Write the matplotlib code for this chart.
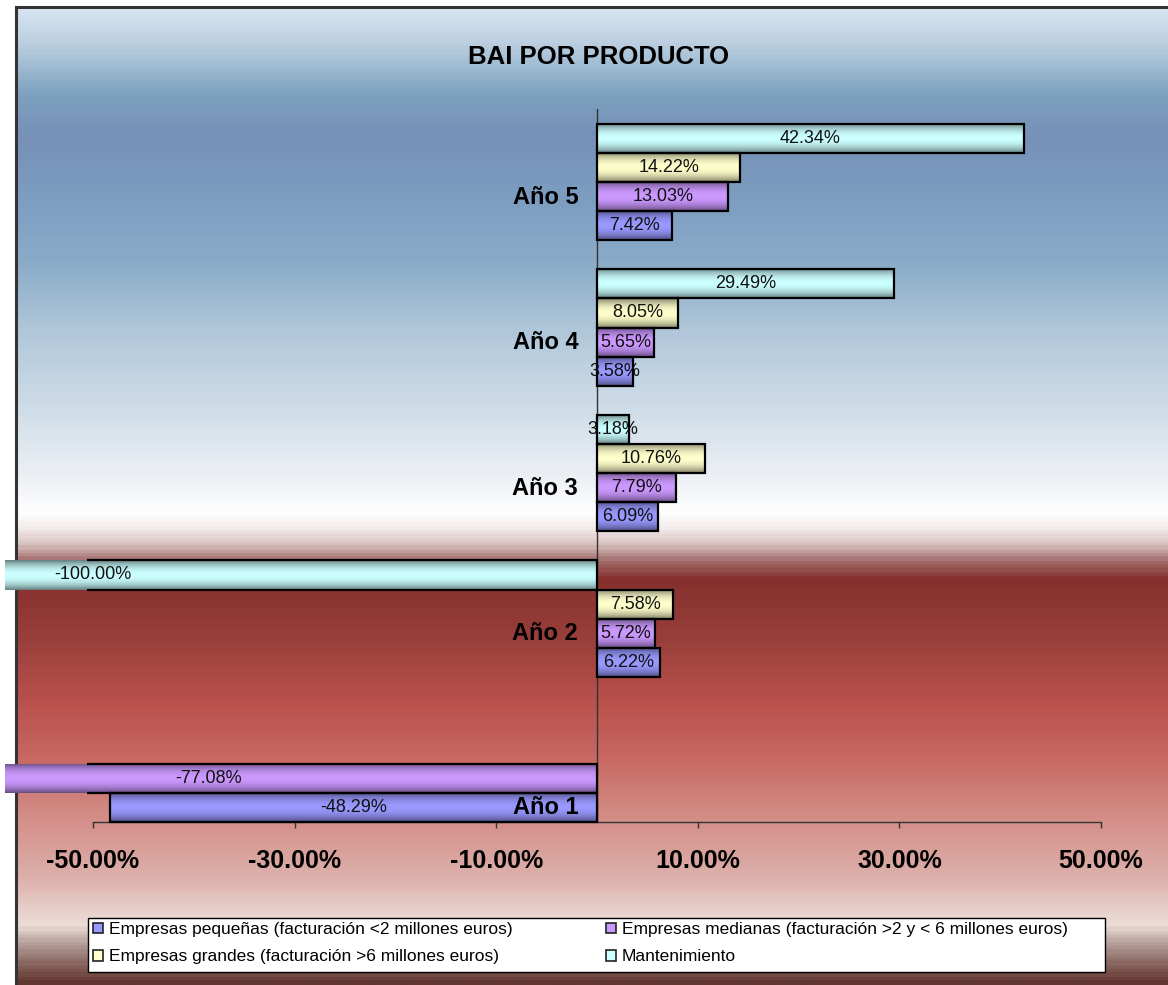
import numpy as np
import matplotlib.pyplot as plt
from matplotlib.colors import LinearSegmentedColormap, to_rgb
from matplotlib.patches import Rectangle, Patch
from matplotlib.ticker import FixedLocator, FuncFormatter

# data
categories = ['Año 1', 'Año 2', 'Año 3', 'Año 4', 'Año 5']
series = ['Empresas pequeñas (facturación <2 millones euros)',
          'Empresas medianas (facturación >2 y < 6 millones euros)',
          'Empresas grandes (facturación >6 millones euros)',
          'Mantenimiento']
pequenas = [-48.29, 6.22, 6.09, 3.58, 7.42]
medianas = [-77.08, 5.72, 7.79, 5.65, 13.03]
grandes = [None, 7.58, 10.76, 8.05, 14.22]
mantenimiento = [None, -100.00, 3.18, 29.49, 42.34]
values = [pequenas, medianas, grandes, mantenimiento]
colors = ['#9999ff', '#cc99ff', '#ffffcc', '#ccffff']
xticks = [-50, -30, -10, 10, 30, 50]

W, H = 1168, 985
fig = plt.figure(figsize=(W / 100, H / 100), dpi=100)
fig.patch.set_facecolor('white')

# background gradient of the chart area
stops = [(7, '#d6e4f1'), (40, '#bccfe0'), (70, '#98b6cd'), (90, '#7ea2bf'),
         (135, '#7790b8'), (200, '#7d9ec1'), (260, '#8aabc8'), (330, '#b0c7d9'),
         (420, '#d4e0ea'), (480, '#eef1f6'), (512, '#ffffff'), (528, '#f4ecec'),
         (545, '#d8c0c0'), (562, '#a06a68'), (580, '#86302d'), (640, '#993f3b'),
         (700, '#b8504c'), (760, '#c86862'), (820, '#d48e88'), (880, '#ddb0ab'),
         (915, '#e8d2cd'), (928, '#ecdcd6'), (945, '#b8a29d'), (965, '#8c6a64'),
         (985, '#623630')]
bg_cmap = LinearSegmentedColormap.from_list(
    'bg', [((y - 7) / (985 - 7), c) for y, c in stops])
bg = fig.add_axes([16 / W, 0, 1 - 16 / W, (H - 7) / H], zorder=-10)
bg.imshow(np.linspace(0, 1, 600).reshape(-1, 1), cmap=bg_cmap, aspect='auto',
          extent=[0, 1, 0, 1], origin='upper')
bg.set_xticks([])
bg.set_yticks([])
for side in ['right', 'bottom']:
    bg.spines[side].set_visible(False)
for side in ['left', 'top']:
    bg.spines[side].set_color('#333333')
    bg.spines[side].set_linewidth(2.2)

# main axes
px_per_unit = 10.08
zero_px = 597
x_lo = (5 - zero_px) / px_per_unit
x_hi = (W - zero_px) / px_per_unit
y_lo, y_hi = -0.4, 4.505
bottom_px, top_px = 822.4, 108.5
ax = fig.add_axes([5 / W, (H - bottom_px) / H, (W - 5) / W, (bottom_px - top_px) / H])
ax.set_facecolor('none')

bar_h = 0.2
y_base = np.arange(len(categories))
edge_clip = Rectangle((-50.6, -5), 300, 20, transform=ax.transData)

for j, (vals, col) in enumerate(zip(values, colors)):
    c = np.array(to_rgb(col))
    t = np.linspace(-1, 1, 60)
    shade = 1 - 0.5 * np.abs(t) ** 2
    grad = (c[None, :] * shade[:, None])[:, None, :]
    for i, v in enumerate(vals):
        if v is None:
            continue
        yc = y_base[i] + (j - 1.5) * bar_h
        fill = ax.barh(yc, v, height=bar_h, color=col, linewidth=0, zorder=2)[0]
        im = ax.imshow(grad, extent=[min(0, v), max(0, v), yc - bar_h / 2, yc + bar_h / 2],
                       aspect='auto', origin='lower', zorder=2.5, interpolation='bilinear')
        im.set_clip_path(fill.get_path(), fill.get_transform())
        edge = ax.barh(yc, v, height=bar_h, facecolor='none', edgecolor='black',
                       linewidth=1.6, zorder=3)[0]
        edge.set_clip_path(edge_clip)
        ax.text(v / 2, yc, f'{v:.2f}%', ha='center', va='center', fontsize=13,
                family='Liberation Sans', color='#111111', zorder=4)

# category labels at the value axis
label_shift = [0.30, 0.105, 0.105, 0.105, 0.105]
for i, lab in enumerate(categories):
    ax.annotate(lab, xy=(0, y_base[i] - label_shift[i]), xytext=(-13.5, 0),
                textcoords='offset points', ha='right', va='center', fontsize=17,
                fontweight='bold', family='Liberation Sans', zorder=5)

ax.axvline(0, color='#333333', linewidth=1, zorder=1.5)
ax.set_xlim(x_lo, x_hi)
ax.set_ylim(y_lo, y_hi)
ax.set_yticks([])
for side in ['left', 'right', 'top']:
    ax.spines[side].set_visible(False)
ax.spines['bottom'].set_bounds(-50, 50)
ax.spines['bottom'].set_color('#333333')
ax.spines['bottom'].set_linewidth(1)
ax.xaxis.set_major_locator(FixedLocator(xticks))
ax.xaxis.set_major_formatter(FuncFormatter(lambda v, p: f'{v:.2f}%'))
ax.tick_params(axis='x', direction='out', length=4.5, width=1, color='#333333', pad=15)
for tl in ax.get_xticklabels():
    tl.set_fontsize(18)
    tl.set_fontweight('bold')
    tl.set_family('Liberation Sans')

fig.text(599 / W, 1 - 57 / H, 'BAI POR PRODUCTO', ha='center', va='center',
         fontsize=18.5, fontweight='bold', family='Liberation Sans')

# legend: white box with two columns, filled row by row
fig.patches.append(Rectangle((88 / W, (H - 972) / H), (1105 - 88) / W, 54 / H,
                             transform=fig.transFigure, facecolor='white',
                             edgecolor='black', linewidth=1, zorder=5))
handles = [Patch(facecolor=c, edgecolor='#222222', linewidth=1.2) for c in colors]
col_x = [89, 602]
for k in range(2):
    idx = [k, k + 2]
    leg = fig.legend([handles[m] for m in idx], [series[m] for m in idx], ncol=1,
                     loc='upper left', bbox_to_anchor=(col_x[k] / W, 1 - 918 / H),
                     prop={'family': 'Liberation Sans', 'size': 12.5},
                     handlelength=0.55, handleheight=0.55, handletextpad=0.35,
                     borderaxespad=0, borderpad=0.25, labelspacing=0.7,
                     frameon=False)
    leg.set_zorder(6)

fig.savefig('out.png', dpi=100)
